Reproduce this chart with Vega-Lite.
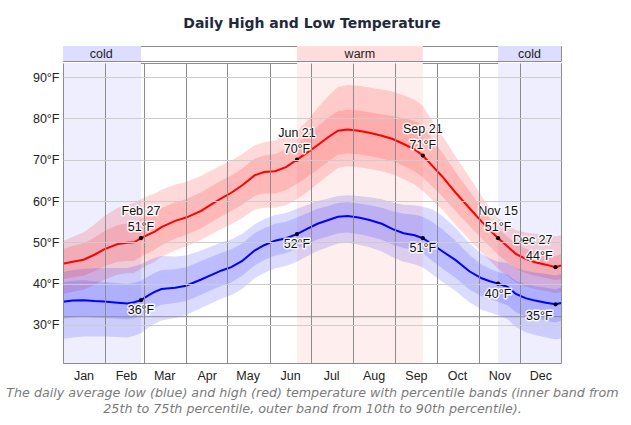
{
  "$schema": "https://vega.github.io/schema/vega-lite/v6.json",
  "padding": {"left": 5, "top": 16, "right": 5, "bottom": 2},
  "background": "white",
  "spacing": 0,
  "config": {
    "font": "Liberation Sans",
    "view": {"stroke": "#8c8c8c"}
  },
  "datasets": {
    "seasons": [
      {"start": "2023-01-01", "end": "2023-02-27", "mid": "2023-01-29", "season": "cold"},
      {"start": "2023-06-21", "end": "2023-09-21", "mid": "2023-08-06", "season": "warm"},
      {"start": "2023-11-15", "end": "2023-12-31", "mid": "2023-12-08", "season": "cold"}
    ],
    "temps": [
      {"date": "2023-01-01", "h": 44.8, "h10": 37.5, "h25": 41.1, "h75": 48.4, "h90": 50.3, "l": 35.6, "l10": 26.6, "l25": 31.5, "l75": 40.4, "l90": 42.8},
      {"date": "2023-01-08", "h": 45.3, "h10": 38.0, "h25": 41.5, "h75": 49.1, "h90": 51.3, "l": 35.9, "l10": 27.0, "l25": 31.8, "l75": 40.7, "l90": 43.3},
      {"date": "2023-01-16", "h": 45.8, "h10": 38.5, "h25": 41.9, "h75": 49.8, "h90": 52.4, "l": 36.0, "l10": 27.2, "l25": 32.0, "l75": 40.8, "l90": 43.6},
      {"date": "2023-01-24", "h": 47.0, "h10": 39.7, "h25": 43.0, "h75": 51.2, "h90": 54.3, "l": 35.8, "l10": 27.2, "l25": 31.8, "l75": 40.6, "l90": 43.7},
      {"date": "2023-01-31", "h": 48.3, "h10": 40.9, "h25": 44.2, "h75": 52.7, "h90": 56.3, "l": 35.7, "l10": 27.2, "l25": 31.7, "l75": 40.4, "l90": 43.8},
      {"date": "2023-02-10", "h": 49.6, "h10": 42.2, "h25": 45.3, "h75": 54.2, "h90": 58.4, "l": 35.4, "l10": 27.1, "l25": 31.5, "l75": 40.1, "l90": 43.8},
      {"date": "2023-02-17", "h": 49.9, "h10": 42.5, "h25": 45.5, "h75": 54.6, "h90": 59.2, "l": 35.2, "l10": 27.0, "l25": 31.3, "l75": 39.9, "l90": 43.8},
      {"date": "2023-02-22", "h": 50.0, "h10": 42.6, "h25": 45.5, "h75": 54.7, "h90": 59.5, "l": 35.5, "l10": 27.4, "l25": 31.6, "l75": 40.2, "l90": 44.2},
      {"date": "2023-02-27", "h": 51.0, "h10": 43.6, "h25": 46.5, "h75": 55.7, "h90": 60.5, "l": 36.0, "l10": 28.0, "l25": 32.1, "l75": 40.7, "l90": 44.7},
      {"date": "2023-03-05", "h": 52.0, "h10": 44.7, "h25": 47.5, "h75": 56.7, "h90": 61.4, "l": 37.3, "l10": 29.5, "l25": 33.5, "l75": 41.9, "l90": 45.7},
      {"date": "2023-03-09", "h": 52.6, "h10": 45.3, "h25": 48.2, "h75": 57.2, "h90": 61.8, "l": 38.0, "l10": 30.3, "l25": 34.2, "l75": 42.6, "l90": 46.2},
      {"date": "2023-03-14", "h": 53.7, "h10": 46.5, "h25": 49.3, "h75": 58.3, "h90": 62.7, "l": 38.7, "l10": 31.1, "l25": 34.9, "l75": 43.3, "l90": 46.7},
      {"date": "2023-03-24", "h": 55.2, "h10": 48.1, "h25": 50.9, "h75": 59.7, "h90": 64.0, "l": 39.0, "l10": 31.7, "l25": 35.3, "l75": 43.5, "l90": 46.6},
      {"date": "2023-04-01", "h": 56.0, "h10": 49.0, "h25": 51.8, "h75": 60.5, "h90": 64.6, "l": 39.5, "l10": 32.4, "l25": 35.8, "l75": 44.0, "l90": 46.8},
      {"date": "2023-04-12", "h": 57.6, "h10": 50.6, "h25": 53.4, "h75": 62.1, "h90": 66.1, "l": 41.0, "l10": 34.1, "l25": 37.3, "l75": 45.5, "l90": 48.0},
      {"date": "2023-04-20", "h": 59.3, "h10": 52.1, "h25": 55.0, "h75": 63.7, "h90": 67.5, "l": 42.2, "l10": 35.3, "l25": 38.5, "l75": 46.6, "l90": 49.1},
      {"date": "2023-04-27", "h": 60.7, "h10": 53.3, "h25": 56.3, "h75": 65.0, "h90": 68.7, "l": 43.2, "l10": 36.4, "l25": 39.5, "l75": 47.5, "l90": 50.0},
      {"date": "2023-05-04", "h": 62.0, "h10": 54.4, "h25": 57.5, "h75": 66.2, "h90": 69.8, "l": 44.0, "l10": 37.2, "l25": 40.3, "l75": 48.3, "l90": 50.7},
      {"date": "2023-05-12", "h": 63.8, "h10": 55.9, "h25": 59.1, "h75": 67.9, "h90": 71.4, "l": 45.5, "l10": 38.7, "l25": 41.9, "l75": 49.7, "l90": 52.1},
      {"date": "2023-05-21", "h": 66.2, "h10": 57.9, "h25": 61.2, "h75": 70.2, "h90": 73.5, "l": 48.0, "l10": 41.3, "l25": 44.4, "l75": 52.2, "l90": 54.4},
      {"date": "2023-05-28", "h": 67.0, "h10": 58.4, "h25": 61.8, "h75": 71.0, "h90": 74.2, "l": 49.3, "l10": 42.6, "l25": 45.7, "l75": 53.4, "l90": 55.6},
      {"date": "2023-06-05", "h": 67.2, "h10": 58.4, "h25": 61.8, "h75": 71.4, "h90": 74.7, "l": 50.4, "l10": 43.7, "l25": 46.8, "l75": 54.5, "l90": 56.6},
      {"date": "2023-06-13", "h": 68.2, "h10": 59.0, "h25": 62.6, "h75": 72.5, "h90": 76.0, "l": 51.0, "l10": 44.3, "l25": 47.4, "l75": 55.0, "l90": 57.1},
      {"date": "2023-06-21", "h": 70.0, "h10": 60.4, "h25": 64.2, "h75": 73.6, "h90": 76.8, "l": 52.0, "l10": 45.3, "l25": 48.4, "l75": 56.0, "l90": 58.1},
      {"date": "2023-06-28", "h": 71.6, "h10": 62.0, "h25": 65.7, "h75": 75.8, "h90": 79.2, "l": 53.2, "l10": 46.6, "l25": 49.5, "l75": 57.0, "l90": 59.0},
      {"date": "2023-07-06", "h": 73.5, "h10": 64.1, "h25": 67.6, "h75": 78.0, "h90": 82.5, "l": 54.5, "l10": 47.9, "l25": 50.7, "l75": 58.1, "l90": 60.0},
      {"date": "2023-07-14", "h": 75.5, "h10": 66.3, "h25": 69.6, "h75": 80.2, "h90": 85.5, "l": 55.4, "l10": 48.9, "l25": 51.5, "l75": 58.8, "l90": 60.6},
      {"date": "2023-07-21", "h": 77.0, "h10": 68.0, "h25": 71.2, "h75": 81.8, "h90": 87.6, "l": 56.2, "l10": 49.7, "l25": 52.2, "l75": 59.5, "l90": 61.2},
      {"date": "2023-07-28", "h": 77.3, "h10": 68.4, "h25": 71.5, "h75": 82.1, "h90": 88.1, "l": 56.4, "l10": 49.9, "l25": 52.4, "l75": 59.7, "l90": 61.4},
      {"date": "2023-08-05", "h": 77.0, "h10": 68.2, "h25": 71.3, "h75": 81.9, "h90": 87.9, "l": 56.0, "l10": 49.5, "l25": 52.0, "l75": 59.4, "l90": 61.2},
      {"date": "2023-08-13", "h": 76.5, "h10": 67.8, "h25": 70.9, "h75": 81.5, "h90": 87.5, "l": 55.4, "l10": 48.8, "l25": 51.4, "l75": 59.0, "l90": 60.9},
      {"date": "2023-08-22", "h": 75.8, "h10": 67.2, "h25": 70.3, "h75": 81.0, "h90": 87.0, "l": 54.5, "l10": 47.8, "l25": 50.6, "l75": 58.4, "l90": 60.4},
      {"date": "2023-08-30", "h": 75.0, "h10": 66.5, "h25": 69.6, "h75": 80.6, "h90": 86.5, "l": 53.2, "l10": 46.4, "l25": 49.4, "l75": 57.5, "l90": 59.6},
      {"date": "2023-09-07", "h": 73.8, "h10": 65.3, "h25": 68.5, "h75": 80.0, "h90": 85.6, "l": 52.2, "l10": 45.3, "l25": 48.6, "l75": 56.9, "l90": 59.1},
      {"date": "2023-09-15", "h": 72.5, "h10": 64.0, "h25": 67.2, "h75": 79.4, "h90": 84.5, "l": 51.7, "l10": 44.7, "l25": 48.2, "l75": 56.7, "l90": 59.0},
      {"date": "2023-09-21", "h": 71.0, "h10": 62.5, "h25": 65.7, "h75": 78.3, "h90": 83.0, "l": 51.0, "l10": 43.9, "l25": 47.4, "l75": 56.2, "l90": 58.6},
      {"date": "2023-09-28", "h": 68.5, "h10": 60.2, "h25": 63.5, "h75": 75.0, "h90": 79.5, "l": 49.5, "l10": 42.2, "l25": 45.5, "l75": 54.9, "l90": 58.0},
      {"date": "2023-10-05", "h": 66.0, "h10": 58.0, "h25": 61.2, "h75": 71.8, "h90": 76.0, "l": 47.9, "l10": 40.5, "l25": 43.7, "l75": 53.2, "l90": 56.5},
      {"date": "2023-10-15", "h": 62.0, "h10": 54.2, "h25": 57.5, "h75": 67.0, "h90": 70.8, "l": 45.7, "l10": 38.2, "l25": 41.4, "l75": 50.4, "l90": 53.5},
      {"date": "2023-10-25", "h": 58.3, "h10": 50.7, "h25": 54.0, "h75": 62.5, "h90": 65.8, "l": 43.0, "l10": 35.5, "l25": 38.6, "l75": 47.0, "l90": 49.8},
      {"date": "2023-11-03", "h": 55.0, "h10": 47.5, "h25": 50.9, "h75": 58.3, "h90": 61.2, "l": 41.3, "l10": 33.7, "l25": 36.9, "l75": 44.6, "l90": 47.2},
      {"date": "2023-11-09", "h": 53.0, "h10": 45.6, "h25": 49.0, "h75": 55.7, "h90": 58.3, "l": 40.6, "l10": 33.0, "l25": 36.2, "l75": 43.6, "l90": 46.1},
      {"date": "2023-11-15", "h": 51.0, "h10": 43.6, "h25": 47.0, "h75": 53.3, "h90": 55.8, "l": 40.0, "l10": 32.4, "l25": 35.6, "l75": 42.8, "l90": 45.3},
      {"date": "2023-11-22", "h": 49.0, "h10": 41.8, "h25": 45.2, "h75": 51.3, "h90": 54.2, "l": 39.2, "l10": 31.4, "l25": 34.8, "l75": 42.2, "l90": 45.0},
      {"date": "2023-11-28", "h": 47.2, "h10": 40.3, "h25": 43.6, "h75": 49.6, "h90": 53.0, "l": 37.5, "l10": 29.5, "l25": 33.1, "l75": 40.7, "l90": 43.7},
      {"date": "2023-12-05", "h": 46.0, "h10": 39.3, "h25": 42.6, "h75": 48.5, "h90": 52.4, "l": 36.5, "l10": 28.3, "l25": 32.1, "l75": 39.9, "l90": 43.1},
      {"date": "2023-12-12", "h": 45.2, "h10": 38.7, "h25": 41.9, "h75": 47.8, "h90": 52.1, "l": 35.9, "l10": 27.6, "l25": 31.5, "l75": 39.4, "l90": 42.7},
      {"date": "2023-12-20", "h": 44.6, "h10": 38.2, "h25": 41.4, "h75": 47.3, "h90": 51.9, "l": 35.4, "l10": 27.0, "l25": 31.0, "l75": 39.0, "l90": 42.4},
      {"date": "2023-12-27", "h": 44.0, "h10": 37.7, "h25": 40.8, "h75": 46.7, "h90": 51.5, "l": 35.0, "l10": 26.5, "l25": 30.6, "l75": 38.6, "l90": 42.0},
      {"date": "2023-12-31", "h": 44.4, "h10": 38.0, "h25": 41.1, "h75": 47.2, "h90": 51.7, "l": 35.3, "l10": 26.7, "l25": 31.0, "l75": 39.1, "l90": 42.4}
    ],
    "ann": [
      {"date": "2023-02-27", "temp": 51, "label": "Feb 27\n51°F", "g": "hc"},
      {"date": "2023-06-21", "temp": 70, "label": "Jun 21\n70°F", "g": "hc"},
      {"date": "2023-09-21", "temp": 71, "label": "Sep 21\n71°F", "g": "hc"},
      {"date": "2023-11-15", "temp": 51, "label": "Nov 15\n51°F", "g": "hc"},
      {"date": "2023-12-27", "temp": 44, "label": "Dec 27\n44°F", "g": "hr"},
      {"date": "2023-02-27", "temp": 36, "label": "36°F", "g": "lc"},
      {"date": "2023-06-21", "temp": 52, "label": "52°F", "g": "lc"},
      {"date": "2023-09-21", "temp": 51, "label": "51°F", "g": "lc"},
      {"date": "2023-11-15", "temp": 40, "label": "40°F", "g": "lc"},
      {"date": "2023-12-27", "temp": 35, "label": "35°F", "g": "lr"}
    ]
  },
  "vconcat": [
    {
      "width": 498,
      "height": 15,
      "title": {"text": "Daily High and Low Temperature", "font": "DejaVu Sans", "fontSize": 14, "fontWeight": "bold", "color": "#1e2a3c", "anchor": "middle", "frame": "group", "offset": 15},
      "data": {"name": "seasons"},
      "layer": [
        {
          "mark": {"type": "rect"},
          "encoding": {
            "x": {"field": "start", "type": "temporal", "scale": {"type": "utc", "domain": [{"year": 2023, "month": 1, "date": 1, "utc": true}, {"year": 2023, "month": 12, "date": 31, "utc": true}]}, "axis": null},
            "x2": {"field": "end"},
            "y": {"datum": 0, "type": "quantitative", "scale": {"domain": [0, 1], "nice": false}, "axis": {"title": null, "labels": false, "ticks": false, "domain": false, "grid": false, "minExtent": 57, "maxExtent": 57}},
            "y2": {"datum": 1},
            "color": {"field": "season", "type": "nominal", "scale": {"domain": ["cold", "warm"], "range": ["#ddddff", "#ffdddd"]}, "legend": null}
          }
        },
        {
          "mark": {"type": "text", "fontSize": 12.5, "color": "#222222", "baseline": "middle"},
          "encoding": {
            "x": {"field": "mid", "type": "temporal"},
            "y": {"datum": 0.5, "type": "quantitative"},
            "text": {"field": "season"}
          }
        }
      ]
    },
    {
      "width": 498,
      "height": 300,
      "layer": [
        {
          "data": {"name": "seasons"},
          "transform": [{"filter": "datum.season == 'cold'"}],
          "mark": {"type": "rect", "color": "#eeeeff"},
          "encoding": {
            "x": {"field": "start", "type": "temporal", "scale": {"type": "utc", "domain": [{"year": 2023, "month": 1, "date": 1, "utc": true}, {"year": 2023, "month": 12, "date": 31, "utc": true}]},
              "axis": {"tickCount": {"interval": "month", "step": 1}, "format": "%b", "labelOffset": 20.5, "labelFlush": false, "labelOverlap": false, "grid": true, "gridColor": "#8c8c8c", "gridOpacity": 1, "ticks": false, "domain": false, "labelPadding": 6, "labelFontSize": 12.5, "labelColor": "#222222", "zindex": 1,
                "title": ["The daily average low (blue) and high (red) temperature with percentile bands (inner band from", "25th to 75th percentile, outer band from 10th to 90th percentile)."],
                "titleFont": "DejaVu Sans", "titleFontStyle": "italic", "titleFontWeight": "normal", "titleFontSize": 12.7, "titleColor": "#7a7a7a", "titlePadding": 5, "titleLineHeight": 16}},
            "x2": {"field": "end"}
          }
        },
        {
          "data": {"name": "seasons"},
          "transform": [{"filter": "datum.season == 'warm'"}],
          "mark": {"type": "rect", "color": "#ffeeee"},
          "encoding": {
            "x": {"field": "start", "type": "temporal"},
            "x2": {"field": "end"}
          }
        },
        {
          "data": {"name": "temps"},
          "mark": {"type": "area", "color": "#ff0000", "opacity": 0.15},
          "encoding": {
            "x": {"field": "date", "type": "temporal"},
            "y": {"field": "h10", "type": "quantitative", "scale": {"domain": [20.8, 93.4], "nice": false, "zero": false},
              "axis": {"values": [30, 40, 50, 60, 70, 80, 90], "labelExpr": "datum.value + '°F'", "gridColor": "#cccccc", "ticks": false, "domain": false, "labelPadding": 4, "labelFontSize": 12.5, "labelColor": "#222222", "title": null, "minExtent": 57, "maxExtent": 57, "zindex": 1}},
            "y2": {"field": "h90"}
          }
        },
        {
          "data": {"name": "temps"},
          "mark": {"type": "area", "color": "#ff0000", "opacity": 0.15},
          "encoding": {
            "x": {"field": "date", "type": "temporal"},
            "y": {"field": "h25", "type": "quantitative"},
            "y2": {"field": "h75"}
          }
        },
        {
          "data": {"name": "temps"},
          "mark": {"type": "area", "color": "#0000ff", "opacity": 0.14},
          "encoding": {
            "x": {"field": "date", "type": "temporal"},
            "y": {"field": "l10", "type": "quantitative"},
            "y2": {"field": "l90"}
          }
        },
        {
          "data": {"name": "temps"},
          "mark": {"type": "area", "color": "#0000ff", "opacity": 0.14},
          "encoding": {
            "x": {"field": "date", "type": "temporal"},
            "y": {"field": "l25", "type": "quantitative"},
            "y2": {"field": "l75"}
          }
        },
        {
          "data": {"values": [{"t": 32}]},
          "mark": {"type": "rule", "color": "#8c8c8c"},
          "encoding": {"y": {"field": "t", "type": "quantitative"}}
        },
        {
          "data": {"name": "temps"},
          "mark": {"type": "line", "color": "#ff0000", "strokeWidth": 2},
          "encoding": {
            "x": {"field": "date", "type": "temporal"},
            "y": {"field": "h", "type": "quantitative"}
          }
        },
        {
          "data": {"name": "temps"},
          "mark": {"type": "line", "color": "#0000ff", "strokeWidth": 2},
          "encoding": {
            "x": {"field": "date", "type": "temporal"},
            "y": {"field": "l", "type": "quantitative"}
          }
        },
        {
          "data": {"name": "ann"},
          "mark": {"type": "circle", "color": "#000000", "size": 18, "opacity": 1},
          "encoding": {
            "x": {"field": "date", "type": "temporal"},
            "y": {"field": "temp", "type": "quantitative"}
          }
        },
        {
          "data": {"name": "ann"},
          "transform": [{"filter": "datum.g == 'hc'"}],
          "mark": {"type": "text", "lineBreak": "\n", "lineHeight": 16, "fontSize": 12.5, "align": "center", "baseline": "bottom", "dy": -20, "fill": "white", "stroke": "white", "strokeWidth": 3, "strokeJoin": "round", "strokeOpacity": 0.85},
          "encoding": {"x": {"field": "date", "type": "temporal"}, "y": {"field": "temp", "type": "quantitative"}, "text": {"field": "label"}}
        },
        {
          "data": {"name": "ann"},
          "transform": [{"filter": "datum.g == 'hc'"}],
          "mark": {"type": "text", "lineBreak": "\n", "lineHeight": 16, "fontSize": 12.5, "align": "center", "baseline": "bottom", "dy": -20, "color": "#111111"},
          "encoding": {"x": {"field": "date", "type": "temporal"}, "y": {"field": "temp", "type": "quantitative"}, "text": {"field": "label"}}
        },
        {
          "data": {"name": "ann"},
          "transform": [{"filter": "datum.g == 'hr'"}],
          "mark": {"type": "text", "lineBreak": "\n", "lineHeight": 16, "fontSize": 12.5, "align": "right", "baseline": "bottom", "dy": -20, "dx": -3, "fill": "white", "stroke": "white", "strokeWidth": 3, "strokeJoin": "round", "strokeOpacity": 0.85},
          "encoding": {"x": {"field": "date", "type": "temporal"}, "y": {"field": "temp", "type": "quantitative"}, "text": {"field": "label"}}
        },
        {
          "data": {"name": "ann"},
          "transform": [{"filter": "datum.g == 'hr'"}],
          "mark": {"type": "text", "lineBreak": "\n", "lineHeight": 16, "fontSize": 12.5, "align": "right", "baseline": "bottom", "dy": -20, "dx": -3, "color": "#111111"},
          "encoding": {"x": {"field": "date", "type": "temporal"}, "y": {"field": "temp", "type": "quantitative"}, "text": {"field": "label"}}
        },
        {
          "data": {"name": "ann"},
          "transform": [{"filter": "datum.g == 'lc'"}],
          "mark": {"type": "text", "fontSize": 12.5, "align": "center", "baseline": "top", "dy": 4, "fill": "white", "stroke": "white", "strokeWidth": 3, "strokeJoin": "round", "strokeOpacity": 0.85},
          "encoding": {"x": {"field": "date", "type": "temporal"}, "y": {"field": "temp", "type": "quantitative"}, "text": {"field": "label"}}
        },
        {
          "data": {"name": "ann"},
          "transform": [{"filter": "datum.g == 'lc'"}],
          "mark": {"type": "text", "fontSize": 12.5, "align": "center", "baseline": "top", "dy": 4, "color": "#111111"},
          "encoding": {"x": {"field": "date", "type": "temporal"}, "y": {"field": "temp", "type": "quantitative"}, "text": {"field": "label"}}
        },
        {
          "data": {"name": "ann"},
          "transform": [{"filter": "datum.g == 'lr'"}],
          "mark": {"type": "text", "fontSize": 12.5, "align": "right", "baseline": "top", "dy": 6, "dx": -3, "fill": "white", "stroke": "white", "strokeWidth": 3, "strokeJoin": "round", "strokeOpacity": 0.85},
          "encoding": {"x": {"field": "date", "type": "temporal"}, "y": {"field": "temp", "type": "quantitative"}, "text": {"field": "label"}}
        },
        {
          "data": {"name": "ann"},
          "transform": [{"filter": "datum.g == 'lr'"}],
          "mark": {"type": "text", "fontSize": 12.5, "align": "right", "baseline": "top", "dy": 6, "dx": -3, "color": "#111111"},
          "encoding": {"x": {"field": "date", "type": "temporal"}, "y": {"field": "temp", "type": "quantitative"}, "text": {"field": "label"}}
        }
      ]
    }
  ]
}
